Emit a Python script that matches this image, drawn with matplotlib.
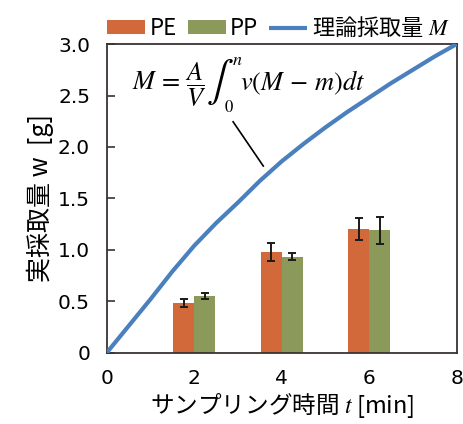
import matplotlib
matplotlib.use("Agg")
import matplotlib.pyplot as plt
import numpy as np

plt.rcParams['font.family'] = ['Noto Sans CJK JP', 'DejaVu Sans']
plt.rcParams['mathtext.fontset'] = 'stix'

# Measured sampling amounts (bars) at each sampling time
times = [2, 4, 6]
pe_mean = [0.48, 0.98, 1.20]
pe_err = [0.04, 0.085, 0.105]
pp_mean = [0.55, 0.935, 1.19]
pp_err = [0.027, 0.037, 0.13]

# Theoretical sampling amount M over time
theory_t = [0, 0.5, 1, 1.5, 2, 2.5, 3, 3.5, 4, 4.5, 5, 5.5, 6, 6.5, 7, 7.5, 8]
theory_m = [0, 0.26, 0.52, 0.79, 1.04, 1.26, 1.46, 1.67, 1.86, 2.03, 2.19,
            2.34, 2.48, 2.62, 2.75, 2.88, 3.0]

x_ticks = [0, 2, 4, 6, 8]
y_ticks = [0, 0.5, 1.0, 1.5, 2.0, 2.5, 3.0]
y_ticklabels = ['0', '0.5', '1.0', '1.5', '2.0', '2.5', '3.0']

c_pe = '#D2693A'
c_pp = '#8B9A5A'
c_line = '#4A80BD'
c_axis = '#3a3333'

fig = plt.figure(figsize=(4.64, 4.24), dpi=100)
ax = fig.add_axes([0.230, 0.168, 0.754, 0.728])

bw = 0.48
t = np.array(times, dtype=float)
h_pe = ax.bar(t - bw / 2, pe_mean, width=bw, color=c_pe, label='PE', zorder=2)
h_pp = ax.bar(t + bw / 2, pp_mean, width=bw, color=c_pp, label='PP', zorder=2)
err_kw = dict(fmt='none', ecolor='#1a1a1a', elinewidth=1.4, capsize=3.2,
              capthick=1.4, zorder=3)
ax.errorbar(t - bw / 2, pe_mean, yerr=pe_err, **err_kw)
ax.errorbar(t + bw / 2, pp_mean, yerr=pp_err, **err_kw)

h_m, = ax.plot(theory_t, theory_m, color=c_line, lw=3, label='理論採取量 $M$',
               zorder=4, solid_capstyle='butt')

# Equation label built from pieces so the integral sign can be drawn large
eq_anchor = (0.571, 2.553)
eq_parts = [
    (r'$M\,=\,\dfrac{A}{V}$', (0, 0), 19, 'baseline'),
    (r'$\int$', (74, 8), 29, 'center'),
    (r'$n$', (100, 25), 13, 'baseline'),
    (r'$0$', (92, -22), 12, 'baseline'),
    (r'$v(M\,-\,m)dt$', (108, 0), 19, 'baseline'),
]
for txt, off, fs, va in eq_parts:
    ax.annotate(txt, xy=eq_anchor, xycoords='data', xytext=off,
                textcoords='offset pixels', fontsize=fs, ha='left', va=va)
ax.plot([2.89, 3.58], [2.245, 1.815], color='black', lw=1.2, zorder=5)

ax.set_xlim(0, 8)
ax.set_ylim(0, 3.0)
ax.set_xticks(x_ticks)
ax.set_yticks(y_ticks)
ax.set_yticklabels(y_ticklabels)
ax.tick_params(axis='y', direction='in', length=6, width=1.2, color=c_axis,
               labelsize=14.5, pad=12)
ax.tick_params(axis='x', length=0, labelsize=14.5, pad=12)
for lab in ax.get_xticklabels() + ax.get_yticklabels():
    lab.set_family('DejaVu Sans')
for s in ax.spines.values():
    s.set_color(c_axis)
    s.set_linewidth(1.3)

ax.set_xlabel('サンプリング時間 $t$ [min]', fontsize=17, labelpad=2)
ax.set_ylabel('実採取量 w  [g]', fontsize=18, labelpad=3)

ax.legend([h_pe, h_pp, h_m], ['PE', 'PP', '理論採取量 $M$'],
          loc='lower left', bbox_to_anchor=(-0.005, 1.006), ncol=3,
          frameon=False, fontsize=16, handlelength=1.7, handleheight=0.6,
          handletextpad=0.2, columnspacing=0.5, borderaxespad=0,
          borderpad=0.1)

fig.savefig('out.png', dpi=100)
